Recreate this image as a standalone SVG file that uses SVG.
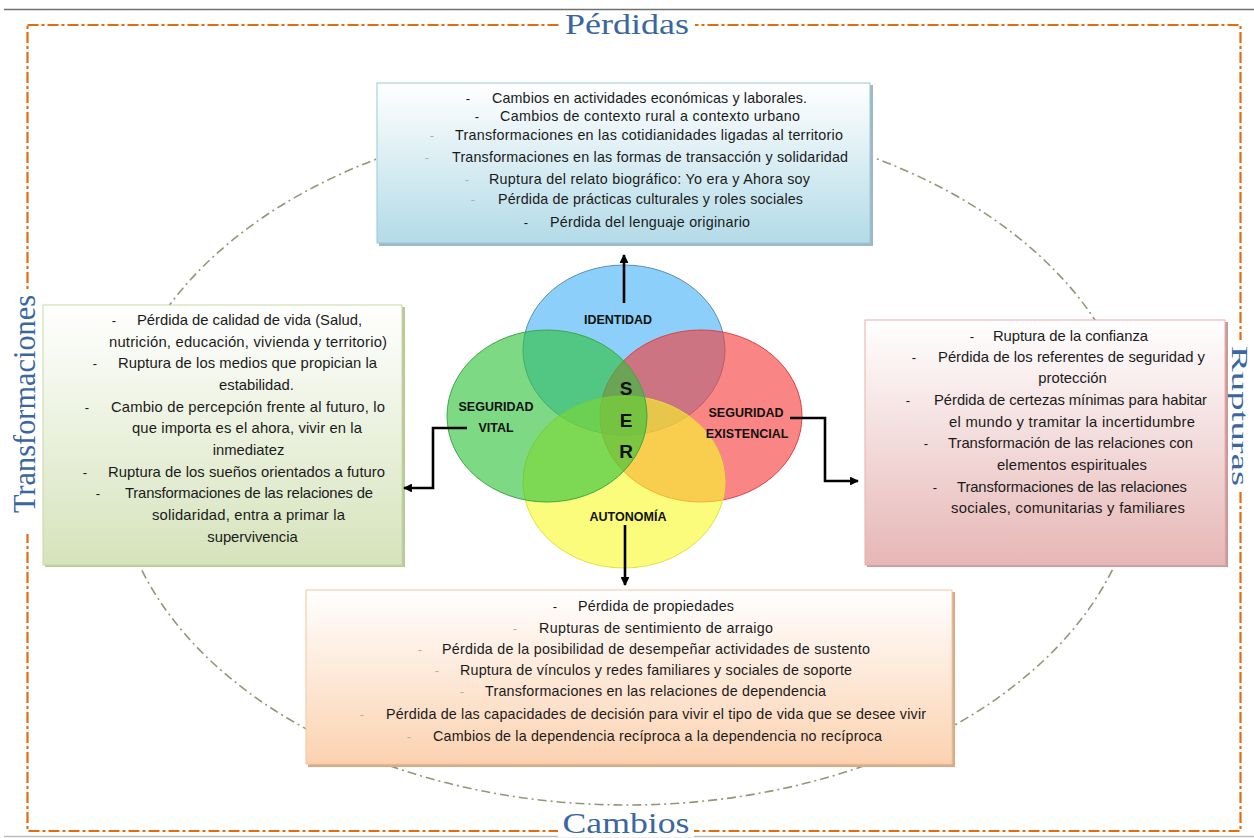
<svg xmlns="http://www.w3.org/2000/svg" width="1254" height="838" viewBox="0 0 1254 838">
<style>
.t{font-family:"Liberation Sans",Arial,sans-serif;font-size:14.3px;fill:#1a1a1a;text-anchor:middle}
.ts{font-size:14.8px}
.d{font-family:"Liberation Sans",Arial,sans-serif;font-size:13px;fill:#111;text-anchor:middle}
.dg{fill:#b0b0b0}
.lab{font-family:"Liberation Sans",Arial,sans-serif;font-size:12.5px;font-weight:bold;fill:#111;text-anchor:middle}
.ser{font-family:"Liberation Sans",Arial,sans-serif;font-size:19px;font-weight:bold;fill:#111;text-anchor:middle}
.title{font-family:"Liberation Serif","Times New Roman",serif;fill:#3a67a0;text-anchor:middle}
.conn{fill:none;stroke:#000;stroke-width:2.6}
</style>
<defs>
<linearGradient id="gBlue" x1="0" y1="0" x2="0" y2="1"><stop offset="0" stop-color="#ffffff"/><stop offset="1" stop-color="#b3dbe7"/></linearGradient>
<linearGradient id="gGreen" x1="0" y1="0" x2="0" y2="1"><stop offset="0" stop-color="#ffffff"/><stop offset="1" stop-color="#d5e3bb"/></linearGradient>
<linearGradient id="gPink" x1="0" y1="0" x2="0" y2="1"><stop offset="0" stop-color="#ffffff"/><stop offset="1" stop-color="#e6b7b6"/></linearGradient>
<linearGradient id="gPeach" x1="0" y1="0" x2="0" y2="1"><stop offset="0" stop-color="#ffffff"/><stop offset="1" stop-color="#fbd2b0"/></linearGradient>
<marker id="arr" viewBox="0 0 10 10" refX="9" refY="5" markerWidth="3.4" markerHeight="3.4" orient="auto" markerUnits="strokeWidth"><path d="M0,0 L10,5 L0,10 z" fill="#000"/></marker>
</defs>
<rect x="0" y="0" width="1254" height="838" fill="#ffffff"/>
<line x1="4" y1="9.5" x2="1254" y2="9.5" stroke="#707070" stroke-width="1.5"/>
<line x1="4" y1="836.5" x2="1254" y2="836.5" stroke="#bdbdbd" stroke-width="1.5"/>

<g id="frame">
<rect x="27.5" y="25" width="1213" height="806" fill="none" stroke="#e46c0a" stroke-width="2.2" stroke-dasharray="11 3 3 3"/>
<ellipse cx="627" cy="460" rx="512" ry="345" fill="none" stroke="#8c9a78" stroke-width="1.6" stroke-dasharray="9 4 2 4"/>
</g>

<g id="title-perdidas">
<rect x="559" y="14" width="136" height="24" fill="#fff"/>
<text class="title" x="627" y="34" font-size="29" textLength="124" lengthAdjust="spacingAndGlyphs">Pérdidas</text>
</g>
<g id="title-cambios">
<rect x="558" y="815" width="136" height="22" fill="#fff"/>
<text class="title" x="626" y="833" font-size="29" textLength="127" lengthAdjust="spacingAndGlyphs">Cambios</text>
</g>
<g id="title-transformaciones">
<rect x="12" y="290" width="30" height="244" fill="#fff"/>
<text class="title" transform="translate(35,404) rotate(-90)" x="0" y="0" font-size="32" textLength="218" lengthAdjust="spacingAndGlyphs">Transformaciones</text>
</g>
<g id="title-rupturas">
<rect x="1226" y="340" width="26" height="152" fill="#fff"/>
<text class="title" transform="translate(1232,416) rotate(90)" x="0" y="0" font-size="24" textLength="140" lengthAdjust="spacingAndGlyphs">Rupturas</text>
</g>

<g id="box-perdidas">
<rect x="379" y="85" width="494" height="161" fill="#9fb9c4"/>
<rect x="377" y="83" width="493" height="160" fill="url(#gBlue)" stroke="#98c8d8" stroke-width="1"/>
<text class="d" x="468" y="102.5">-</text><text class="t" x="649.5" y="102.5" textLength="315">Cambios en actividades económicas y laborales.</text>
<text class="d" x="477" y="120.5">-</text><text class="t" x="650" y="120.5" textLength="300">Cambios de contexto rural a contexto urbano</text>
<text class="d dg" x="432" y="139.5">-</text><text class="t" x="649" y="139.5" textLength="388">Transformaciones en las cotidianidades ligadas al territorio</text>
<text class="d dg" x="427" y="161.5">-</text><text class="t" x="650" y="161.5" textLength="396">Transformaciones en las formas de transacción y solidaridad</text>
<text class="d dg" x="467" y="183.5">-</text><text class="t" x="649.5" y="183.5" textLength="321">Ruptura del relato biográfico: Yo era y Ahora soy</text>
<text class="d dg" x="473" y="203.5">-</text><text class="t" x="650.5" y="203.5" textLength="305">Pérdida de prácticas culturales y roles sociales</text>
<text class="d" x="526" y="227">-</text><text class="t" x="650" y="227" textLength="200">Pérdida del lenguaje originario</text>
</g>

<g id="box-transformaciones">
<rect x="45" y="307" width="360" height="260" fill="#b9c99a"/>
<rect x="43" y="305" width="359" height="260" fill="url(#gGreen)" stroke="#c6d9a0" stroke-width="1"/>
<text class="d" x="114" y="324.5">-</text><text class="t ts" x="249.5" y="324.5" textLength="225">Pérdida de calidad de vida (Salud,</text>
<text class="t ts" x="248" y="347" textLength="278">nutrición, educación, vivienda y territorio)</text>
<text class="d" x="95" y="367.5">-</text><text class="t ts" x="247.5" y="367.5" textLength="259">Ruptura de los medios que propician la</text>
<text class="t ts" x="256.5" y="389.5">estabilidad.</text>
<text class="d" x="87" y="411.5">-</text><text class="t ts" x="248" y="411.5" textLength="274">Cambio de percepción frente al futuro, lo</text>
<text class="t ts" x="247" y="432.5" textLength="230">que importa es el ahora, vivir en la</text>
<text class="t ts" x="248.5" y="454.5">inmediatez</text>
<text class="d" x="85" y="476.5">-</text><text class="t ts" x="246.5" y="476.5" textLength="277">Ruptura de los sueños orientados a futuro</text>
<text class="d" x="98" y="497.5">-</text><text class="t ts" x="249" y="497.5" textLength="248">Transformaciones de las relaciones de</text>
<text class="t ts" x="248.5" y="519.5" textLength="193">solidaridad, entra a primar la</text>
<text class="t ts" x="252.5" y="541.5">supervivencia</text>
</g>

<g id="box-rupturas">
<rect x="867" y="322" width="361" height="245" fill="#c99a99"/>
<rect x="865" y="320" width="360" height="245" fill="url(#gPink)" stroke="#e8b0b0" stroke-width="1"/>
<text class="d" x="972" y="340.5">-</text><text class="t ts" x="1070.5" y="340.5" textLength="155">Ruptura de la confianza</text>
<text class="d" x="914" y="361.5">-</text><text class="t ts" x="1071.5" y="361.5" textLength="267">Pérdida de los referentes de seguridad y</text>
<text class="t ts" x="1072.5" y="382.5">protección</text>
<text class="d" x="908" y="404.5">-</text><text class="t ts" x="1070.5" y="404.5" textLength="273">Pérdida de certezas mínimas para habitar</text>
<text class="t ts" x="1072" y="426.5" textLength="246">el mundo y tramitar la incertidumbre</text>
<text class="d" x="926" y="447.5">-</text><text class="t ts" x="1070.5" y="447.5" textLength="245">Transformación de las relaciones con</text>
<text class="t ts" x="1072" y="469.5" textLength="150">elementos espirituales</text>
<text class="d" x="935" y="491.5">-</text><text class="t ts" x="1072" y="491.5" textLength="230">Transformaciones de las relaciones</text>
<text class="t ts" x="1068" y="512.5" textLength="234">sociales, comunitarias y familiares</text>
</g>

<g id="box-cambios">
<rect x="308" y="592" width="647" height="175" fill="#d6ad8c"/>
<rect x="306" y="590" width="646" height="174" fill="url(#gPeach)" stroke="#f9c49a" stroke-width="1"/>
<text class="d" x="555" y="610.5">-</text><text class="t" x="656" y="610.5" textLength="156">Pérdida de propiedades</text>
<text class="d dg" x="515" y="632.5">-</text><text class="t" x="656" y="632.5" textLength="234">Rupturas de sentimiento de arraigo</text>
<text class="d dg" x="420" y="653.5">-</text><text class="t" x="656" y="653.5" textLength="428">Pérdida de la posibilidad de desempeñar actividades de sustento</text>
<text class="d dg" x="437" y="674.5">-</text><text class="t" x="656" y="674.5" textLength="392">Ruptura de vínculos y redes familiares y sociales de soporte</text>
<text class="d dg" x="462" y="695.5">-</text><text class="t" x="655.5" y="695.5" textLength="341">Transformaciones en las relaciones de dependencia</text>
<text class="d dg" x="362" y="718.5">-</text><text class="t" x="656" y="718.5" textLength="540">Pérdida de las capacidades de decisión para vivir el tipo de vida que se desee vivir</text>
<text class="d dg" x="409" y="740.5">-</text><text class="t" x="657.5" y="740.5" textLength="449">Cambios de la dependencia recíproca a la dependencia no recíproca</text>
</g>

<g id="venn-ser">
<ellipse id="c-identidad" cx="624" cy="350" rx="101" ry="85" fill="#43b1f7" fill-opacity="0.62" stroke="#5a8fb0" stroke-width="1"/>
<ellipse id="c-existencial" cx="701" cy="416" rx="101" ry="86" fill="#f53c39" fill-opacity="0.62" stroke="#e04040" stroke-width="1"/>
<ellipse id="c-autonomia" cx="624" cy="482" rx="101" ry="86" fill="#f8f82b" fill-opacity="0.62" stroke="#e2e23a" stroke-width="1"/>
<ellipse id="c-vital" cx="547" cy="416" rx="100" ry="86" fill="#2fc23a" fill-opacity="0.62" stroke="#3aa845" stroke-width="1"/>
<text class="lab" x="618" y="323.5">IDENTIDAD</text>
<text class="lab" x="496" y="410.5">SEGURIDAD</text>
<text class="lab" x="496" y="431.5">VITAL</text>
<text class="lab" x="746" y="416.5">SEGURIDAD</text>
<text class="lab" x="747" y="437.5">EXISTENCIAL</text>
<text class="lab" x="628" y="520.5">AUTONOMÍA</text>
<text class="ser" x="626" y="395">S</text>
<text class="ser" x="626" y="427">E</text>
<text class="ser" x="626" y="458">R</text>
</g>

<g id="connectors">
<path class="conn" d="M624,303 V255" marker-end="url(#arr)"/>
<path class="conn" d="M625,525 V585" marker-end="url(#arr)"/>
<path class="conn" d="M467,428 H433 V488 H404" marker-end="url(#arr)"/>
<path class="conn" d="M790,418 H825 V481 H858" marker-end="url(#arr)"/>
</g>
</svg>
